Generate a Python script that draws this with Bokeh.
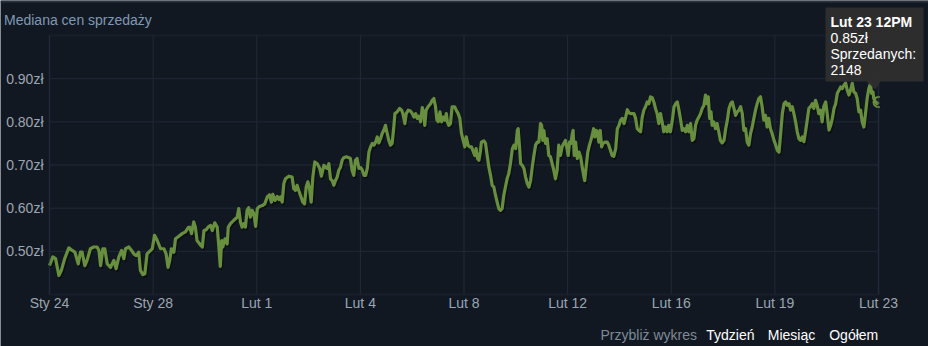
from bokeh.plotting import figure
from bokeh.models import (Range1d, FixedTicker, PrintfTickFormatter, Label, PolyAnnotation,
                          BoxAnnotation, LinearAxis, Grid)
from bokeh.embed import file_html
from bokeh.resources import INLINE

# ---------------- data ----------------
# x = days since Jan 24 00:00 (axis runs Jan 24 12:00 .. Feb 23 12:00)
days = [
    0.50, 0.62, 0.72, 0.84, 0.93, 1.05, 1.20, 1.32, 1.42, 1.54, 1.62, 1.68, 1.78, 1.86, 1.98, 2.10,
    2.22, 2.29, 2.35, 2.43, 2.50, 2.59, 2.71, 2.83, 2.91, 3.01, 3.11, 3.19, 3.25, 3.37, 3.47, 3.55,
    3.64, 3.73, 3.79, 3.88, 3.95, 4.03, 4.16, 4.22, 4.30, 4.40, 4.52, 4.64, 4.72, 4.79, 4.85, 4.91,
    5.00, 5.06, 5.18, 5.30, 5.42, 5.52,
    5.57, 5.64, 5.72, 5.78, 5.84, 5.97, 6.03, 6.09, 6.17, 6.24, 6.33, 6.39, 6.48, 6.57, 6.63, 6.68,
    6.73, 6.77, 6.85, 6.93, 6.97, 7.05, 7.17, 7.29, 7.35, 7.41, 7.47, 7.53, 7.59, 7.65, 7.71, 7.77,
    7.83, 7.90, 7.96, 8.02, 8.10, 8.20, 8.29, 8.38, 8.46, 8.53, 8.58, 8.66, 8.74, 8.80, 8.86, 8.92,
    8.98, 9.04, 9.16, 9.28, 9.34, 9.40, 9.46, 9.52, 9.58, 9.67, 9.73, 9.79, 9.85, 9.91, 9.97, 10.03,
    10.10, 10.19, 10.28, 10.34, 10.43, 10.49,
    10.55, 10.61, 10.67, 10.73, 10.79, 10.85, 10.91, 10.97, 11.03, 11.09, 11.15, 11.24, 11.33, 11.39,
    11.45, 11.51, 11.57, 11.63, 11.70, 11.76, 11.82, 11.88, 11.94, 12.00, 12.06, 12.12, 12.18, 12.24,
    12.30, 12.36, 12.42, 12.48, 12.54, 12.60, 12.66, 12.72, 12.78, 12.84, 12.90, 12.96, 13.00, 13.08,
    13.17, 13.24, 13.29, 13.36, 13.41, 13.48, 13.56, 13.63, 13.69, 13.75, 13.81, 13.87, 13.93, 13.99,
    14.05, 14.08, 14.13, 14.20, 14.29, 14.35, 14.41, 14.47, 14.52, 14.57, 14.63, 14.69, 14.75, 14.81,
    14.86, 14.90, 14.95, 15.01, 15.07, 15.16, 15.22, 15.29, 15.35, 15.41, 15.47, 15.53, 15.58, 15.65,
    15.70,
    15.77, 15.82, 15.89, 15.94, 15.99, 16.04, 16.09, 16.13, 16.22, 16.28, 16.34, 16.40, 16.46, 16.52,
    16.58, 16.64, 16.70, 16.76, 16.82, 16.88, 16.94, 17.00, 17.06, 17.12, 17.18, 17.25, 17.31, 17.37,
    17.43, 17.46, 17.51, 17.55, 17.61, 17.67, 17.73, 17.79, 17.85, 17.91, 17.97, 18.03, 18.09, 18.15,
    18.21, 18.27, 18.31, 18.35, 18.39, 18.45, 18.51, 18.57, 18.63, 18.69, 18.75, 18.81, 18.87, 18.93,
    18.99, 19.05, 19.11, 19.17, 19.23, 19.27, 19.32, 19.37, 19.42, 19.45, 19.49, 19.54, 19.60, 19.66,
    19.72, 19.78, 19.84, 19.87, 19.92, 19.98, 20.04, 20.09, 20.14, 20.19, 20.24, 20.29, 20.33, 20.38,
    20.43, 20.48, 20.53, 20.60,
    20.68, 20.74, 20.80, 20.86, 20.92, 20.99, 21.05, 21.11, 21.17, 21.23, 21.29, 21.35, 21.41, 21.47,
    21.53, 21.59, 21.65, 21.71, 21.77, 21.83, 21.89, 21.95, 22.01, 22.07, 22.13, 22.19, 22.25, 22.31,
    22.37, 22.43, 22.49, 22.55, 22.61, 22.67, 22.73, 22.79, 22.85, 22.91, 22.97, 23.04, 23.10, 23.16,
    23.22, 23.28, 23.34, 23.40, 23.46, 23.52, 23.58, 23.64, 23.70, 23.76, 23.82, 23.88, 23.94, 24.00,
    24.06, 24.12, 24.18, 24.24, 24.29, 24.34, 24.39, 24.44, 24.48, 24.54, 24.60, 24.66, 24.72, 24.78,
    24.84, 24.91, 24.97, 25.03, 25.09, 25.15, 25.21, 25.27, 25.33, 25.39, 25.45, 25.51, 25.57, 25.63,
    25.69, 25.75, 25.81, 25.87,
    25.93, 25.99, 26.05, 26.11, 26.17, 26.23, 26.29, 26.35, 26.41, 26.47, 26.53, 26.59, 26.65, 26.72,
    26.78, 26.84, 26.90, 26.96, 27.02, 27.08, 27.14, 27.20, 27.26, 27.32, 27.38, 27.44, 27.50, 27.56,
    27.62, 27.68, 27.74, 27.80, 27.86, 27.92, 27.98, 28.04, 28.10, 28.16, 28.22, 28.28, 28.34, 28.40,
    28.46, 28.52, 28.59, 28.65, 28.71, 28.77, 28.83, 28.89, 28.95, 29.01, 29.07, 29.13, 29.19, 29.25,
    29.31, 29.37, 29.43, 29.49, 29.55, 29.61, 29.67, 29.73, 29.79, 29.85, 29.91, 29.97, 30.03, 30.09,
    30.15, 30.21, 30.25, 30.30, 30.33, 30.39, 30.45, 30.50,
]
prices = [
    .467, .487, .483, .444, .456, .483, .508, .502, .498, .471, .498, .498, .467, .479, .506, .510,
    .510, .502, .467, .506, .506, .471, .463, .479, .460, .487, .502, .483, .506, .510, .502, .494,
    .490, .498, .456, .446, .448, .494, .502, .506, .537, .525, .506, .506, .494, .463, .479, .506,
    .498, .529, .535, .541, .545, .555,
    .556, .541, .568, .556, .525, .514, .510, .548, .550, .556, .560, .548, .566, .556, .510, .465,
    .525, .510, .529, .517, .556, .564, .572, .579, .599, .568, .556, .564, .556, .595, .601, .579,
    .595, .587, .558, .599, .604, .606, .610, .626, .631, .614, .632, .618, .627, .620, .626, .614,
    .657, .668, .674, .672, .645, .641, .653, .641, .630, .614, .610, .649, .661, .645, .614, .672,
    .707, .703, .692, .674, .699, .695,
    .692, .703, .668, .664, .653, .664, .672, .688, .695, .711, .717, .719, .717, .715,
    .688, .676, .711, .715, .692, .694, .688, .676, .676, .692, .730, .742, .750, .746,
    .753, .765, .751, .761, .773, .781, .792, .773, .757, .746, .750, .788, .819, .823,
    .831, .827, .819, .796, .819, .827, .825, .819, .811, .819, .808, .813, .800, .833,
    .819, .792, .827, .835, .842, .850, .854, .835, .804, .800, .823, .800, .811, .804,
    .819, .800, .792, .796, .835, .835, .827, .819, .808, .773, .757, .742, .765, .746,
    .742,
    .742, .734, .722, .738, .715, .711, .730, .753, .756, .750, .722, .695, .676, .653,
    .649, .630, .614, .599, .595, .599, .630, .649, .668, .680, .703, .738, .746, .738,
    .780, .784, .742, .703, .699, .692, .672, .657, .649, .664, .695, .722, .746, .753,
    .753, .796, .792, .757, .780, .750, .761, .722, .719, .703, .688, .668, .688, .746,
    .722, .742, .750, .757, .738, .722, .753, .750, .773, .780, .722, .753, .715, .730,
    .719, .695, .672, .664, .695, .730, .746, .757, .769, .784, .765, .780, .777, .753,
    .780, .742, .750, .753,
    .753, .746, .734, .722, .720, .738, .784, .792, .804, .808, .796, .811, .828, .821,
    .819, .819, .819, .808, .784, .780, .777, .811, .827, .835, .846, .842, .858, .856,
    .846, .831, .819, .796, .819, .800, .777, .788, .777, .792, .777, .804, .835, .842,
    .846, .827, .804, .780, .784, .777, .792, .777, .796, .757, .761, .792, .804, .811,
    .819, .831, .838, .862, .842, .858, .808, .823, .792, .800, .784, .796, .777, .757,
    .751, .757, .784, .804, .831, .842, .846, .831, .815, .823, .827, .835, .819, .780,
    .784, .753, .746, .773,
    .788, .808, .827, .842, .854, .858, .835, .804, .815, .788, .808, .784, .773, .757,
    .746, .734, .730, .773, .819, .842, .846, .838, .842, .827, .835, .819, .800, .777,
    .761, .757, .765, .754, .777, .804, .831, .835, .842, .831, .850, .838, .819, .827,
    .800, .835, .846, .815, .781, .792, .808, .831, .842, .866, .873, .881, .877, .885,
    .890, .873, .862, .873, .889, .869, .866, .854, .823, .827, .800, .788, .819, .854,
    .877, .889, .866, .869, .854, .846, .842, .846,
]
x_ticks = [0.5, 4.25, 8.0, 11.75, 15.5, 19.25, 23.0, 26.75, 30.5]
x_labels = ["Sty 24", "Sty 28", "Lut 1", "Lut 4", "Lut 8", "Lut 12", "Lut 16", "Lut 19", "Lut 23"]
y_ticks = [0.5, 0.6, 0.7, 0.8, 0.9]
x_min, x_max = 0.5, 30.5
y_min, y_max = 0.40, 1.00

title_text = "Mediana cen sprzedaży"
tip_lines = ["Lut 23 12PM", "0.85zł", "Sprzedanych:", "2148"]
zoom_label = "Przybliż wykres"
zoom_links = ["Tydzień", "Miesiąc", "Ogółem"]

# ---------------- layout / style ----------------
W, H = 928, 346
PL, PR, PT, PB = 49, 878, 35, 294      # plot-area edges on the canvas (px)
BG = "#121821"
GRID = "#1f2a38"
OUTLINE = "#243142"
LINE = "#688f3e"
AXIS_TXT = "#9aa6b4"
TITLE_TXT = "#7f98b4"
FONT = "Liberation Sans"

# the frame fills the whole canvas; the plot area is a sub-rectangle of it
kx = (PR - PL) / (x_max - x_min)
ky = (PB - PT) / (y_max - y_min)
xr = Range1d(x_min - PL / kx, x_max + (W - PR) / kx)
yr = Range1d(y_min - (H - PB) / ky, y_max + PT / ky)

p = figure(width=W, height=H, output_backend="svg", toolbar_location=None, title=None,
           x_range=xr, y_range=yr, x_axis_location=None, y_axis_location=None,
           min_border=0, background_fill_color=BG, border_fill_color=BG,
           outline_line_color=None)
for g in p.select(type=Grid):
    g.visible = False

# axes pinned to the plot-area edges
xaxis = LinearAxis(fixed_location=y_min, ticker=FixedTicker(ticks=x_ticks))
xaxis.major_label_overrides = dict(zip(x_ticks, x_labels))
yaxis = LinearAxis(fixed_location=x_min, ticker=FixedTicker(ticks=y_ticks),
                   formatter=PrintfTickFormatter(format="%.2fzł"))
for ax in (xaxis, yaxis):
    ax.axis_line_color = None
    ax.major_tick_line_color = None
    ax.minor_tick_line_color = None
    ax.major_tick_in = 0
    ax.major_tick_out = 0
    ax.major_label_text_font = FONT
    ax.major_label_text_font_size = "14px"
    ax.major_label_text_color = AXIS_TXT
xaxis.major_label_standoff = 0
yaxis.major_label_standoff = 6
p.add_layout(xaxis, "below")
p.add_layout(yaxis, "left")

# grid lines, limited to the plot area
p.segment(x0=x_ticks, y0=[y_min] * len(x_ticks), x1=x_ticks, y1=[y_max] * len(x_ticks),
          line_color=GRID, line_width=1)
p.segment(x0=[x_min] * len(y_ticks), y0=y_ticks, x1=[x_max] * len(y_ticks), y1=y_ticks,
          line_color=GRID, line_width=1)

# shadow: same series drawn through slightly shifted ranges
p.extra_x_ranges = {"sh": Range1d(xr.start - 1.3 / kx, xr.end - 1.3 / kx)}
p.extra_y_ranges = {"sh": Range1d(yr.start + 2.0 / ky, yr.end + 2.0 / ky)}
p.line(days, prices, x_range_name="sh", y_range_name="sh",
       line_color="black", line_alpha=0.35, line_width=3, line_join="round")
p.line(days, prices, line_color=LINE, line_width=3.2, line_join="round")
# highlighted last point (ring, cut by the plot-area edge)
p.arc(x=[days[-1]], y=[prices[-1]], radius=5, radius_units="screen",
      start_angle=1.3, end_angle=4.98, line_color=LINE, line_width=2)

# plot-area border
p.add_layout(BoxAnnotation(left=x_min, right=x_max, bottom=y_min, top=y_max,
                           fill_color=None, line_color=OUTLINE, line_width=2))
# thin strip along the top edge of the widget
p.add_layout(BoxAnnotation(bottom=yr.end - 2.0 / ky, fill_color="#28323e", fill_alpha=1.0,
                           line_color=None))

def sx(x):
    return x

def sy(y):
    return H - y

# title
p.add_layout(Label(x=sx(3.5), y=sy(19.5), x_units="screen", y_units="screen", text=title_text,
                   text_font=FONT, text_font_size="14px", text_color=TITLE_TXT,
                   text_baseline="alphabetic"))

# tooltip box with pointer
tx = [825, 923, 923, 880, 875, 866, 825]
ty = [7, 7, 81, 81, 89, 81, 81]
p.add_layout(PolyAnnotation(xs=[sx(v) for v in tx], ys=[sy(v) for v in ty],
                            xs_units="screen", ys_units="screen",
                            fill_color="#2e2e2e", fill_alpha=0.97, line_color=None))
for i, t in enumerate(tip_lines):
    p.add_layout(Label(x=sx(830), y=sy(21.5 + 16 * i), x_units="screen", y_units="screen",
                       text=t, text_font=FONT, text_font_size="14px", text_color="#ffffff",
                       text_font_style="bold" if i == 0 else "normal",
                       text_baseline="alphabetic"))

# zoom controls
p.add_layout(Label(x=sx(600), y=sy(334), x_units="screen", y_units="screen", text=zoom_label,
                   text_font=FONT, text_font_size="14px", text_color="#7e8a97",
                   text_baseline="alphabetic"))
for xpos, t in zip([705.7, 767.3, 828.7], zoom_links):
    p.add_layout(Label(x=sx(xpos), y=sy(334), x_units="screen", y_units="screen", text=t,
                       text_font=FONT, text_font_size="14px", text_color="#ffffff",
                       text_baseline="alphabetic"))

open("out.html", "w").write(file_html(p, INLINE))
